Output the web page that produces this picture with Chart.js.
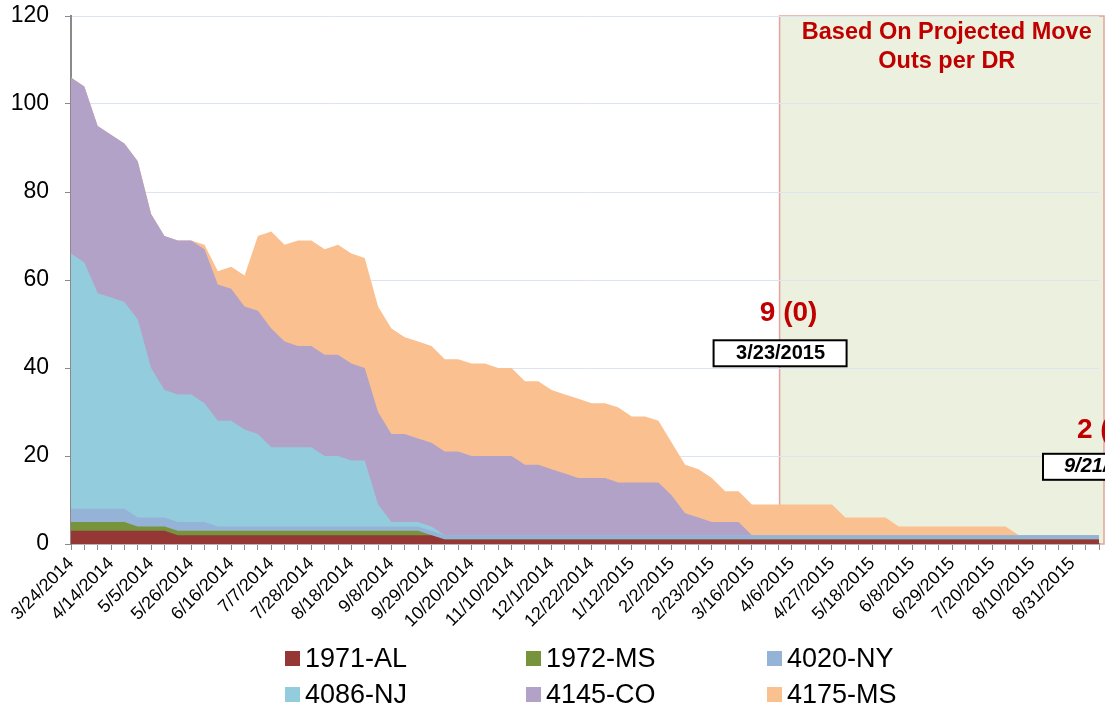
<!DOCTYPE html>
<html><head><meta charset="utf-8">
<script src="https://cdn.jsdelivr.net/npm/chart.js@4.4.1/dist/chart.umd.min.js"></script>
<style>html,body{margin:0;padding:0;background:#fff;overflow:hidden}#c{display:block}</style>
</head><body>
<canvas id="c" width="1105" height="714"></canvas>
<script>
// ---- categories (weekly) ----
const CATEGORIES = [
 '3/24/2014','3/31/2014','4/7/2014','4/14/2014','4/21/2014','4/28/2014','5/5/2014','5/12/2014','5/19/2014','5/26/2014',
 '6/2/2014','6/9/2014','6/16/2014','6/23/2014','6/30/2014','7/7/2014','7/14/2014','7/21/2014','7/28/2014','8/4/2014',
 '8/11/2014','8/18/2014','8/25/2014','9/1/2014','9/8/2014','9/15/2014','9/22/2014','9/29/2014','10/6/2014','10/13/2014',
 '10/20/2014','10/27/2014','11/3/2014','11/10/2014','11/17/2014','11/24/2014','12/1/2014','12/8/2014','12/15/2014','12/22/2014',
 '12/29/2014','1/5/2015','1/12/2015','1/19/2015','1/26/2015','2/2/2015','2/9/2015','2/16/2015','2/23/2015','3/2/2015',
 '3/9/2015','3/16/2015','3/23/2015','3/30/2015','4/6/2015','4/13/2015','4/20/2015','4/27/2015','5/4/2015','5/11/2015',
 '5/18/2015','5/25/2015','6/1/2015','6/8/2015','6/15/2015','6/22/2015','6/29/2015','7/6/2015','7/13/2015','7/20/2015',
 '7/27/2015','8/3/2015','8/10/2015','8/17/2015','8/24/2015','8/31/2015','9/7/2015','9/14/2015'
];
const TICK_LABEL_EVERY = 3;

// ---- series values ----
const S_1971_AL = [
 3,3,3,3,3,3,3,3,2,2, 2,2,2,2,2,2,2,2,2,2, 2,2,2,2,2,2,2,2,1,1,
 1,1,1,1,1,1,1,1,1,1, 1,1,1,1,1,1,1,1,1,1, 1,1,1,1,1,1,1,1,1,1,
 1,1,1,1,1,1,1,1,1,1, 1,1,1,1,1,1,1,1
];
const S_1972_MS = [
 2,2,2,2,2,1,1,1,1,1, 1,1,1,1,1,1,1,1,1,1, 1,1,1,1,1,1,1,0,0,0,
 0,0,0,0,0,0,0,0,0,0, 0,0,0,0,0,0,0,0,0,0, 0,0,0,0,0,0,0,0,0,0,
 0,0,0,0,0,0,0,0,0,0, 0,0,0,0,0,0,0,0
];
const S_4020_NY = [
 3,3,3,3,3,2,2,2,2,2, 2,1,1,1,1,1,1,1,1,1, 1,1,1,1,1,1,1,1,1,1,
 1,1,1,1,1,1,1,1,1,1, 1,1,1,1,1,1,1,1,1,1, 1,1,1,1,1,1,1,1,1,1,
 1,1,1,1,1,1,1,1,1,1, 1,1,1,1,1,1,1,1
];
const S_4086_NJ = [
 58,56,49,48,47,45,34,29,29,29, 27,24,24,22,21,18,18,18,18,16, 16,15,15,5,1,1,1,1,0,0,
 0,0,0,0,0,0,0,0,0,0, 0,0,0,0,0,0,0,0,0,0, 0,0,0,0,0,0,0,0,0,0,
 0,0,0,0,0,0,0,0,0,0, 0,0,0,0,0,0,0,0
];
const S_4145_CO = [
 40,40,38,37,36,36,35,35,35,35, 35,31,30,28,28,27,24,23,23,23, 23,22,21,21,20,20,19,19,19,19,
 18,18,18,18,16,16,15,14,13,13, 13,12,12,12,12,9,5,4,3,3, 3,0,0,0,0,0,0,0,0,0,
 0,0,0,0,0,0,0,0,0,0, 0,0,0,0,0,0,0,0
];
const S_4175_MS = [
 0,0,0,0,0,0,0,0,0,0, 1,3,5,7,17,22,22,24,24,24, 25,25,25,24,24,22,22,22,21,21,
 21,21,20,20,19,19,18,18,18,17, 17,17,15,15,14,12,11,11,10,7, 7,7,7,7,7,7,7,7,4,4,
 4,4,2,2,2,2,2,2,2,2, 2,0,0,0,0,0,0,0
];
const SERIES_NAMES = ['1971-AL','1972-MS','4020-NY','4086-NJ','4145-CO','4175-MS'];
const SERIES_COLORS = ['#953735','#77933C','#95B3D7','#93CDDD','#B3A2C7','#FAC090'];
const SERIES = [S_1971_AL, S_1972_MS, S_4020_NY, S_4086_NJ, S_4145_CO, S_4175_MS];

const Y_MIN = 0, Y_MAX = 120, Y_STEP = 20;

// annotations
const PROJECTION_START_INDEX = 53;
const PROJECTION_TITLE = ['Based On Projected Move', 'Outs per DR'];
const NOTE1_VALUE = '9 (0)', NOTE1_DATE = '3/23/2015';
const NOTE2_VALUE = '2 (0)', NOTE2_DATE = '9/21/2015';

const FONT = '"Liberation Sans", Arial, Helvetica, sans-serif';

const shadePlugin = {
  id: 'shade',
  beforeDraw(chart) {
    const {ctx, chartArea, scales} = chart;
    const x0 = scales.x.getPixelForValue(PROJECTION_START_INDEX) + 1;
    const x1 = chartArea.right + 5;
    ctx.save();
    ctx.fillStyle = '#EBF1DE';
    ctx.fillRect(x0, chartArea.top, x1 - x0, chartArea.bottom - chartArea.top);
    ctx.strokeStyle = '#E6A39B';
    ctx.lineWidth = 1.5;
    ctx.strokeRect(x0, chartArea.top, x1 - x0, chartArea.bottom - chartArea.top);
    ctx.restore();
  },
  afterDraw(chart) {
    const {ctx, chartArea, scales} = chart;
    const xs = scales.x, ys = scales.y;
    const x0 = xs.getPixelForValue(PROJECTION_START_INDEX) + 1;
    const x1 = chartArea.right + 5;
    ctx.save();
    // title
    ctx.fillStyle = '#C00000';
    ctx.font = 'bold 23.5px ' + FONT;
    ctx.textAlign = 'center';
    ctx.textBaseline = 'middle';
    const cx = (x0 + x1) / 2 + 5;
    ctx.fillText(PROJECTION_TITLE[0], cx, chartArea.top + 17);
    ctx.fillText(PROJECTION_TITLE[1], cx, chartArea.top + 46);

    // note 1
    ctx.font = 'bold 28px ' + FONT;
    ctx.fillText(NOTE1_VALUE, x0 + 9, ys.getPixelForValue(52.5));
    const by1 = ys.getPixelForValue(46.3);
    ctx.fillStyle = '#fff';
    ctx.fillRect(x0 - 66, by1, 133, 26);
    ctx.strokeStyle = '#000'; ctx.lineWidth = 2;
    ctx.strokeRect(x0 - 66, by1, 133, 26);
    ctx.fillStyle = '#000';
    ctx.font = 'bold 20px ' + FONT;
    ctx.fillText(NOTE1_DATE, x0 + 1, by1 + 13);

    // note 2
    const xl = xs.getPixelForValue(CATEGORIES.length - 1);
    ctx.fillStyle = '#C00000';
    ctx.font = 'bold 28px ' + FONT;
    ctx.textAlign = 'left';
    ctx.fillText(NOTE2_VALUE, xl - 22, ys.getPixelForValue(25.8));
    const by2 = ys.getPixelForValue(20.5);
    ctx.fillStyle = '#fff';
    ctx.fillRect(xl - 56, by2, 134, 26);
    ctx.strokeStyle = '#000'; ctx.lineWidth = 2;
    ctx.strokeRect(xl - 56, by2, 134, 26);
    ctx.fillStyle = '#000';
    ctx.font = 'italic bold 20px ' + FONT;
    ctx.fillText(NOTE2_DATE, xl - 35, by2 + 13);

    // legend
    const cols = [285, 526, 767], rows = [659, 695];
    ctx.font = '27px ' + FONT;
    ctx.textAlign = 'left';
    ctx.textBaseline = 'middle';
    chart.data.datasets.forEach((ds, k) => {
      const lx = cols[k % 3], ly = rows[Math.floor(k / 3)];
      ctx.fillStyle = ds.backgroundColor;
      ctx.fillRect(lx, ly - 8, 15, 15);
      ctx.fillStyle = '#000';
      ctx.fillText(ds.label, lx + 20, ly + 1);
    });
    ctx.restore();
  }
};

const datasets = SERIES.map((vals, k) => ({
  label: SERIES_NAMES[k],
  data: vals,
  backgroundColor: SERIES_COLORS[k],
  borderColor: SERIES_COLORS[k],
  borderWidth: 0,
  pointRadius: 0,
  pointHoverRadius: 0,
  fill: 'origin',
  tension: 0
}));

new Chart(document.getElementById('c'), {
  type: 'line',
  data: { labels: CATEGORIES, datasets },
  options: {
    responsive: false,
    animation: false,
    devicePixelRatio: 1,
    layout: { padding: { left: 0, right: 6, top: 16, bottom: 0 } },
    plugins: { legend: { display: false }, tooltip: { enabled: false } },
    scales: {
      x: {
        offset: false,
        grid: { display: true, drawOnChartArea: false, drawTicks: true, tickLength: 6, tickColor: '#8A8A8A' },
        border: { display: true, color: '#8A8A8A', width: 1.5 },
        ticks: {
          autoSkip: false, maxRotation: 45, minRotation: 45, padding: 3,
          color: '#000', font: { family: FONT, size: 18 },
          callback: function (v, i) { return i % TICK_LABEL_EVERY === 0 ? this.getLabelForValue(v) : ''; }
        },
        afterFit(s) { s.height = 170; s.paddingLeft = 0; s.paddingRight = 0; }
      },
      y: {
        stacked: true,
        min: Y_MIN, max: Y_MAX,
        grid: { color: '#DCE4F2', lineWidth: 1, tickLength: 6, tickColor: '#8A8A8A' },
        border: { display: true, color: '#8A8A8A', width: 2 },
        ticks: { stepSize: Y_STEP, padding: 16, color: '#000', font: { family: FONT, size: 23 } },
        afterFit(s) { s.width = 71; s.paddingTop = 0; s.paddingBottom = 0; }
      }
    }
  },
  plugins: [shadePlugin]
});
</script>
</body></html>
